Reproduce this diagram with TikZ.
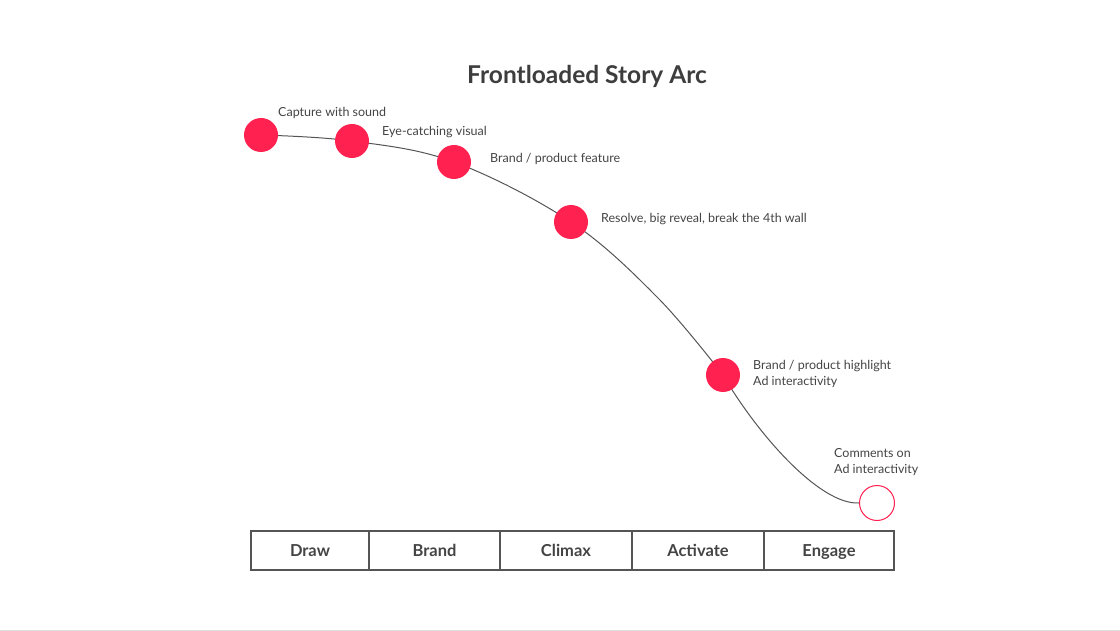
\documentclass[tikz,border=0pt]{standalone}
\usepackage{fontspec}
\setmainfont{Lato}
\usetikzlibrary{backgrounds}
\definecolor{dotred}{HTML}{FF2150}
\definecolor{txt}{HTML}{444444}
\definecolor{linegray}{HTML}{555555}
\begin{document}
\begin{tikzpicture}[x=1pt,y=-1pt,
  dot/.style={circle,fill=dotred,minimum size=34pt,inner sep=0pt},
  opendot/.style={circle,draw=dotred,line width=1pt,fill=white,minimum size=35pt,inner sep=0pt},
  lbl/.style={anchor=west,text=txt,font=\fontsize{12.5}{16}\selectfont,align=left,inner sep=0pt},
  stage/.style={draw=linegray,line width=1.1pt,minimum height=39pt,text=txt,font=\fontsize{16.5}{18}\selectfont\bfseries,text height=11.5pt,text depth=0pt,inner sep=0pt,anchor=west,outer sep=0pt},
  arc/.style={draw=linegray,line width=1pt}]
\useasboundingbox (0,0) rectangle (1120,631);
\fill[gray!25] (0,629.5) rectangle (1120,631);
\node[text=txt!90!black,font=\fontsize{24.5}{28}\selectfont\bfseries] (title) at (587,76) {Frontloaded Story Arc};
\node[dot] (d1) at (261,135) {};
\node[dot] (d2) at (352,141) {};
\node[dot] (d3) at (454,162) {};
\node[dot] (d4) at (571,222) {};
\node[dot] (d5) at (723,375) {};
\node[opendot] (d6) at (877,503) {};
\coordinate (m1) at (658,298);
\coordinate (c1) at (758,435);
\coordinate (c2) at (820,505);
\begin{scope}[on background layer]
\draw[arc] plot[smooth,tension=0.6] coordinates {(d1.center) (d2.center) (d3.center) (d4.center) (m1) (d5.center)} .. controls (c1) and (c2) .. (d6.west);
\end{scope}
\node[lbl] (l1) at (278,113) {Capture with sound};
\node[lbl] (l2) at (382,132) {Eye-catching visual};
\node[lbl] (l3) at (490,159) {Brand / product feature};
\node[lbl] (l4) at (601,219) {Resolve, big reveal, break the 4th wall};
\node[lbl] (l5) at (753,374) {Brand / product highlight\\Ad interactivity};
\node[lbl] (l6) at (834,462) {Comments on\\Ad interactivity};
\node[stage,minimum width=118pt] (s1) at (251,550.5) {Draw};
\node[stage,minimum width=131pt] (s2) at (s1.east) {Brand};
\node[stage,minimum width=132pt] (s3) at (s2.east) {Climax};
\node[stage,minimum width=132pt] (s4) at (s3.east) {Activate};
\node[stage,minimum width=130pt] (s5) at (s4.east) {Engage};
\end{tikzpicture}
\end{document}
